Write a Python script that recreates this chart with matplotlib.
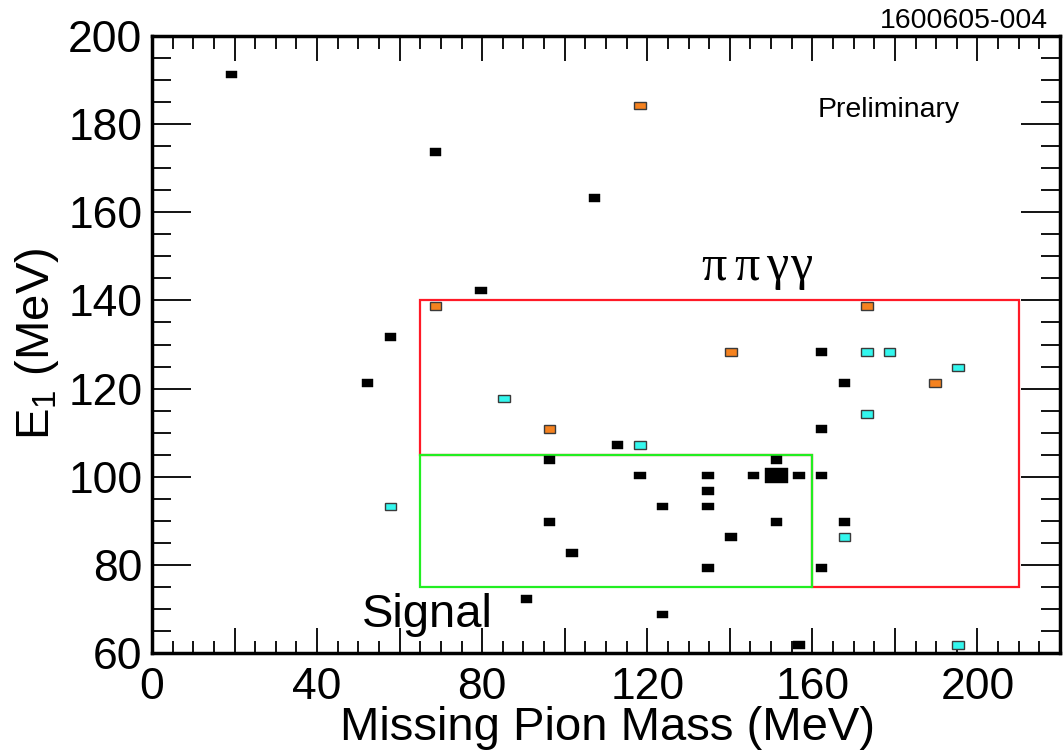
import matplotlib
matplotlib.use("Agg")
import matplotlib.pyplot as plt
from matplotlib.patches import Rectangle, Polygon
from matplotlib.ticker import MultipleLocator, FuncFormatter

plt.rcParams['font.family'] = ['Liberation Sans', 'DejaVu Sans']
plt.rcParams['mathtext.fontset'] = 'custom'
plt.rcParams['mathtext.rm'] = 'Liberation Sans'
plt.rcParams['mathtext.it'] = 'Liberation Sans'

# Histogram binning (40 x 40 bins)
bin_w = 5.5
bin_h = 3.5

# Black events: bin centres (MeV) and counts
black_x = [19.25, 68.75, 107.25, 79.75, 57.75, 52.25, 112.75, 96.25, 118.25, 123.75,
           96.25, 101.75, 90.75, 123.75, 162.25, 167.75, 162.25, 151.25, 134.75, 145.75,
           151.25, 156.75, 162.25, 134.75, 134.75, 151.25, 167.75, 140.25, 134.75, 162.25,
           156.75]
black_y = [191.25, 173.75, 163.25, 142.25, 131.75, 121.25, 107.25, 103.75, 100.25, 93.25,
           89.75, 82.75, 72.25, 68.75, 128.25, 121.25, 110.75, 103.75, 100.25, 100.25,
           100.25, 100.25, 100.25, 96.75, 93.25, 89.75, 89.75, 86.25, 79.25, 79.25,
           61.75]
black_n = [1, 1, 1, 1, 1, 1, 1, 1, 1, 1,
           1, 1, 1, 1, 1, 1, 1, 1, 1, 1,
           2, 1, 1, 1, 1, 1, 1, 1, 1, 1,
           1]
max_n = 2

orange_x = [118.25, 68.75, 173.25, 96.25, 140.25, 189.75]
orange_y = [184.25, 138.75, 138.75, 110.75, 128.25, 121.25]

cyan_x = [85.25, 118.25, 57.75, 173.25, 178.75, 195.25, 173.25, 167.75, 195.25]
cyan_y = [117.75, 107.25, 93.25, 128.25, 128.25, 124.75, 114.25, 86.25, 61.75]

# Regions
signal_box = [(65, 75), (160, 75), (160, 105), (65, 105)]
ppgg_region = [(65, 140), (210, 140), (210, 75), (160, 75), (160, 105), (65, 105)]

fig = plt.figure(figsize=(10.63, 7.54), dpi=100)
ax = fig.add_axes([152/1063, 1-653/754, (1060-152)/1063, (653-36)/754])
ax.set_xlim(0, 220)
ax.set_ylim(60, 200)

def box(x, y, frac, fc, ec, lw):
    w = bin_w * frac
    h = bin_h * frac
    ax.add_patch(Rectangle((x - w/2, y - h/2), w, h, facecolor=fc, edgecolor=ec,
                           linewidth=lw, zorder=4))

for x, y, n in zip(black_x, black_y, black_n):
    box(x, y, n / max_n, 'black', 'black', 0.3)
for x, y in zip(orange_x, orange_y):
    box(x, y, 0.5, '#f5821f', '#3a3a3a', 1.0)
for x, y in zip(cyan_x, cyan_y):
    box(x, y, 0.5, '#33f7ee', '#3a3a3a', 1.0)

ax.add_patch(Polygon(ppgg_region, closed=True, fill=False, edgecolor='#ff1a26',
                     linewidth=1.6, zorder=3))
ax.add_patch(Polygon(signal_box, closed=True, fill=False, edgecolor='#22ee22',
                     linewidth=1.6, zorder=3))

ax.xaxis.set_major_locator(MultipleLocator(20))
ax.xaxis.set_minor_locator(MultipleLocator(5))
ax.yaxis.set_major_locator(MultipleLocator(20))
ax.yaxis.set_minor_locator(MultipleLocator(5))
ax.xaxis.set_major_formatter(FuncFormatter(lambda v, p: f"{int(round(v))}" if int(round(v)) % 40 == 0 else ""))
ax.yaxis.set_major_formatter(FuncFormatter(lambda v, p: f"{int(round(v))}"))

ax.tick_params(axis='both', which='both', direction='in', top=True, right=True,
               width=1.3, labelsize=32)
ax.tick_params(axis='x', which='major', length=18, pad=10)
ax.tick_params(axis='x', which='minor', length=9)
ax.tick_params(axis='y', which='major', length=28, pad=7)
ax.tick_params(axis='y', which='minor', length=14)
for s in ax.spines.values():
    s.set_linewidth(2.5)

fig.text(608/1063, 1-740/754, 'Missing Pion Mass (MeV)', ha='center', va='baseline', fontsize=34)
fig.text(37/1063, 1-344/754, r'E$_1$ (MeV)', ha='center', va='center', rotation=90, fontsize=34)
fig.text(1048/1063, 1-28/754, '1600605-004', ha='right', va='baseline', fontsize=20.5)

ax.text(161.2, 181.6, 'Preliminary', ha='left', va='baseline', fontsize=20.5)
label_chars = ['π', 'π', 'γ', 'γ']
char_offsets_pt = [0, 24, 47, 64]
for ch, off in zip(label_chars, char_offsets_pt):
    ax.annotate(ch, xy=(133.0, 144.8), xytext=(off, 0), textcoords='offset points',
                ha='left', va='baseline', fontsize=36, family='Liberation Serif')
ax.text(50.9, 65.9, 'Signal', ha='left', va='baseline', fontsize=34)

fig.savefig('out.png', dpi=100)
